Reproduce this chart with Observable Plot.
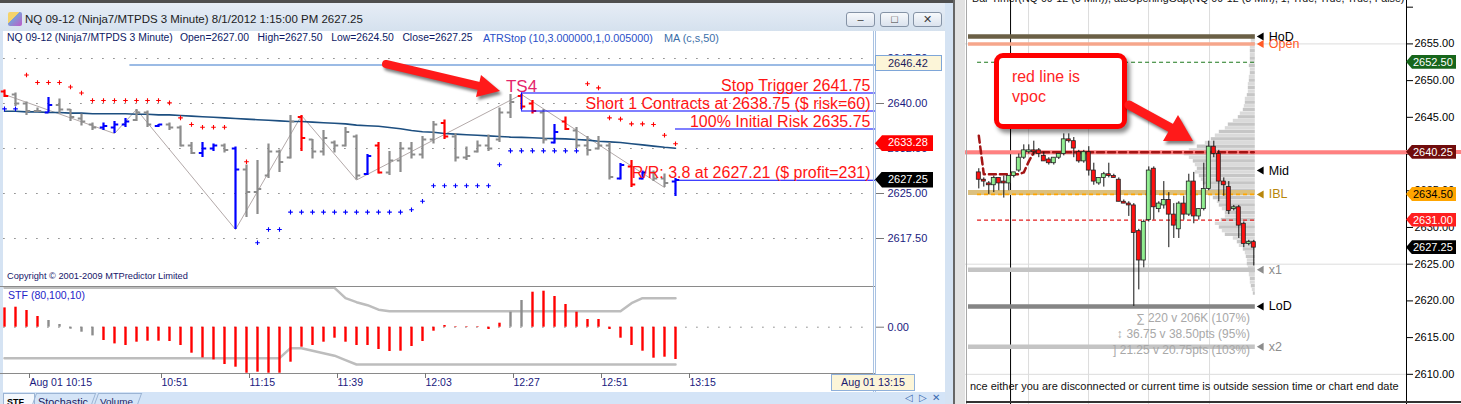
<!DOCTYPE html>
<html>
<head>
<meta charset="utf-8">
<script src="https://cdn.jsdelivr.net/npm/d3@7"></script>
<script src="https://cdn.jsdelivr.net/npm/@observablehq/plot@0.6"></script>
<style>
html,body{margin:0;padding:0;background:#fff;overflow:hidden}
#root{position:relative;width:1461px;height:404px;overflow:hidden;background:#fff;font-family:"Liberation Sans",Arial,sans-serif}
#root svg{max-width:none}
</style>
</head>
<body>
<div id="root"></div>
<script>
// ================= DATA : left chart (NQ 09-12, 3 minute bars, 10:09 -> 13:12) =================
const leftTickBars   = [2,14,22,30,38,46,54,62];
const leftTickLabels = ["Aug 01 10:15","10:51","11:15","11:39","12:03","12:27","12:51","13:15"];
const leftGridPrices = [2617.5,2625,2632.5,2640,2647.5];

const barOpen = [2642,2641.5,2640,2638.75,2638.5,2639.75,2639,2637.5,2636.5,2636,
 2636,2636.5,2637.25,2638.5,2636.25,2636.5,2636,2633,2631.75,2632.5,
 2633,2632.5,2629,2625.25,2628,2632,2631,2637.75,2634,2632,
 2633.5,2633,2634.5,2628.25,2633,2628.5,2630.5,2632.5,2631.5,2634,
 2636.75,2634.5,2631,2632,2633,2634,2638.5,2641.25,2640,2638.5,
 2633.5,2637,2635.5,2633,2632.5,2633,2627.5,2629.5,2627.5,2628.5,
 2627.5,2627];
const barHigh = [2642.25,2641.75,2640.25,2639.25,2641,2640.75,2639,2638.25,2636.75,2636.75,
 2637,2637.5,2639,2638.75,2636.5,2636.75,2636.25,2633.5,2633.5,2633.25,
 2633.25,2632.75,2629.75,2630.5,2633.25,2632.25,2638,2638,2634,2635.5,
 2633.75,2636,2634.75,2631.5,2633.5,2632,2633.5,2633.5,2634.5,2637,
 2637.25,2635,2632.75,2633.75,2634.75,2639.25,2641.5,2641.5,2640.5,2639,
 2636.5,2637.75,2636,2634.5,2634.5,2633.5,2630,2630.5,2628.75,2628.75,
 2628.25,2627.5];
const barLow = [2641,2639.5,2638,2638.5,2638.5,2638.25,2637,2636.25,2635.5,2635.5,
 2635,2636,2637,2636,2636,2635.5,2632.75,2631.5,2631,2632,
 2631.75,2619,2621,2621.5,2627.5,2628.5,2630.75,2632,2630.75,2631.25,
 2631.75,2632.75,2627.25,2628,2628.25,2628,2628.5,2630.75,2630.75,2633.25,
 2634,2630.25,2630.5,2631.75,2632,2633.5,2637.5,2639,2638.25,2633.25,
 2633.25,2635.5,2632.5,2631.25,2632.25,2627.25,2627.25,2626,2627.25,2627,
 2626,2624.5];
const barClose = [2641.25,2640,2638.75,2638.75,2639.75,2639,2637.75,2637,2636,2636.25,
 2636.5,2637,2638.5,2636.5,2636.5,2636,2633,2631.75,2632.5,2633,
 2632.25,2629,2625.25,2625.75,2632,2630.25,2637,2634.25,2632,2634.25,
 2633,2635.25,2628,2631.25,2628.5,2630.5,2632.5,2631.5,2634,2636.5,
 2634.5,2631,2631.25,2633,2632.5,2638.5,2640.25,2639.5,2638.75,2634,
 2635.25,2635.75,2633,2632.25,2633,2627.75,2629.75,2626.5,2628.5,2627.5,
 2626.75,2627.25];
// bar colour codes: g = neutral, b = blue, r = red
const barColorCode = ["rgggbggggb","bbggbgggbb","gbgggggrgg","gggbrggggg","rggggggrrg","brggggbrbg","gb"].join("");

const maValues = [2638.7,2638.7,2638.6,2638.6,2638.5,2638.5,2638.4,2638.4,2638.3,2638.3,
 2638.3,2638.3,2638.2,2638.2,2638.1,2638.1,2638.0,2637.9,2637.8,2637.7,
 2637.6,2637.5,2637.4,2637.3,2637.2,2637.1,2637.0,2637.0,2636.9,2636.8,
 2636.7,2636.6,2636.4,2636.3,2636.2,2636.0,2635.8,2635.5,2635.3,2635.2,
 2635.0,2634.9,2634.8,2634.7,2634.6,2634.5,2634.4,2634.35,2634.3,2634.2,
 2634.15,2634.1,2634.0,2633.9,2633.7,2633.6,2633.5,2633.3,2633.1,2632.9,
 2632.7,2632.55];

const redStop = [null,null,2644.75,2643.5,2643.5,2643.5,2642.75,2641.75,2640.5,2640.5,
 2640.5,2640.5,2640.5,2640.5,2640.5,2640.1,2637.6,2636.5,2636.05,2636.05,
 2636.05,null,2630.3,null,null,null,null,null,null,null,
 null,null,null,null,null,null,null,null,null,null,
 null,null,null,null,null,null,null,null,null,null,
 null,null,null,2643.3,2642.6,2637.6,2637.4,2636.6,2636.6,2636.5,
 2634.7,2633.28];
const blueStop = [2639.1,2639.1,null,null,null,null,null,null,null,null,
 null,null,null,null,null,null,null,null,null,null,
 null,null,null,2616.8,2619,2619,2621.9,2621.9,2621.9,2621.9,
 2621.9,2621.9,2621.9,2621.9,2621.9,2621.9,2621.9,2622.3,2623.7,2626.3,
 2626.3,2626.3,2626.3,2626.3,2626.3,2629.8,2632.1,2632.1,2632.1,2632.1,
 2632.1,2632.1,2632.1,null,null,null,null,null,null,null,
 null,null];

const zigBars   = [0,10,12,21,27,32,47,60];
const zigPrices = [2641.5,2635,2639,2619,2638,2627.25,2641.5,2626];

const tradeLevels = [
  {label:"Stop Trigger 2641.75", price:2641.75, fromBar:47},
  {label:"Short 1 Contracts at 2638.75 ($ risk=60)", price:2638.75, fromBar:47},
  {label:"100% Initial Risk 2635.75", price:2635.75, fromBar:61},
  {label:"R/R: 3.8 at 2627.21 ($ profit=231)", price:2627.21, fromBar:61}
];
const projectionLevel = {price:2646.42, fromBar:11.4};
const signal = {label:"TS4", bar:47, price:2641.5};
const leftTags = [
  {label:"2646.42", price:2646.42, bg:"#fcf5d8", fg:"#1c1c5a", point:false},
  {label:"2633.28", price:2633.28, bg:"#ff0000", fg:"#ffffff", point:true},
  {label:"2627.25", price:2627.25, bg:"#000000", fg:"#ffffff", point:true}
];

// STF indicator
const stfValues = [19.3,20,16.7,10.7,6.7,2.7,-2,-5,-8.7,-13.3,
 -16.7,-18.3,-15,-14,-14,-14.3,-18.3,-26,-30.7,-32.7,
 -37.3,-40,-46,-45,-46,-46,-35,-20,-18.3,-15,
 -11,-15,-18.3,-18.3,-22.3,-24.3,-24,-19.3,-14.3,-4,
 1.7,0.5,0.5,0.5,-2.3,4,15,26.7,35,36,
 30.7,22.7,15,7.7,7.7,-2.3,-11,-18.3,-24,-31,
 -30,-32.3];
const stfColorCode = ["rrrrgggggr","rrrrrrrrrr","rrrrrrrrrr","rrrrrrrrrr","rrrrrrggrr","rrrrrrrrrr","rr"].join("");
const stfUpper = [39.4,39.4,39.4,39.4,39.4,39.4,39.4,39.4,39.4,39.4,
 39.4,39.4,39.4,39.4,39.4,39.4,39.4,39.4,39.4,39.4,
 39.4,39.4,39.4,39.4,39.4,39.4,39.4,39.4,39.4,39.4,
 39.4,29,25,22,17.5,16,16,16,16,16,
 16,16,16,16,16,16,16,16,16,16,
 16,16,16,16,16,16,16,24,29,29,
 29,29];
const stfLower = [-31,-31,-31,-31,-31,-31,-31,-31,-31,-31,
 -31,-31,-31,-31,-31,-31,-31,-31,-31,-31,
 -31,-31,-31,-31,-31,-31,-21,-21,-23.5,-26,
 -28.5,-33,-37.3,-37.3,-37.3,-37.3,-37.3,-37.3,-37.3,-37.3,
 -37.3,-37.3,-37.3,-37.3,-37.3,-37.3,-37.3,-37.3,-37.3,-37.3,
 -37.3,-37.3,-37.3,-37.3,-37.3,-37.3,-37.3,-37.3,-37.3,-37.3,
 -37.3,-37.3];

// ================= DATA : right chart (candles + volume profile) =================
const cOpen = [2637.5,2636.5,2636,2635.75,2636.75,2636.25,2636,2637,2637.75,2639.5,
 2640.25,2640.5,2640.5,2639.75,2639.25,2638.75,2639.5,2640,2642,2641.75,
 2640.25,2639,2640.25,2637.75,2636,2636.75,2637.25,2637,2636.5,2633.5,
 2633.25,2633,2629.5,2625.5,2631,2638,2632.5,2633,2633.75,2631.75,
 2629.75,2633.25,2631.75,2636.25,2631.5,2632.5,2635.25,2641,2640,2636.25,
 2635.5,2632.5,2632.75,2630.5,2627.75,2628];
const cHigh = [2638,2636.75,2636.25,2637,2636.75,2637,2637,2637.5,2640,2641.25,
 2641.25,2641.75,2640.75,2640.25,2639.5,2639.5,2640,2642.75,2642.75,2642.25,
 2640.5,2640.5,2641,2638.75,2636.75,2637.5,2638.75,2637.25,2636.75,2633.75,
 2633.5,2633.25,2629.75,2631,2638.25,2638.25,2633.5,2636.25,2634.75,2633.25,
 2633.5,2634.25,2637.25,2637.5,2632.5,2638.75,2641.75,2641.75,2640.5,2636.75,
 2636.25,2633,2633,2630.75,2628.25,2628.25];
const cLow = [2635.25,2635.5,2634.5,2634.75,2635,2634,2635,2636.75,2637.5,2639.25,
 2640,2639.75,2639.5,2639,2638.5,2638.5,2639.25,2639.75,2641.5,2639.5,
 2638.75,2638.75,2637,2635.75,2635.75,2635.5,2636.75,2636.75,2633.5,2633.25,
 2631.5,2619.25,2621.5,2624.5,2630.75,2631,2632,2632.5,2627.25,2628.5,
 2628.5,2631,2631.5,2630.5,2631,2632.25,2635,2639.5,2633.5,2634.25,
 2631.75,2632.25,2628.5,2627.25,2627.5,2624.75];
const cClose = [2636.5,2636.25,2635.75,2636.75,2636,2636,2637,2637.5,2639.5,2640.5,
 2640.5,2640.25,2640,2639,2638.75,2639.5,2640,2642,2641.75,2640.75,
 2639,2640.25,2637.75,2636.25,2636.75,2637.25,2637,2636.75,2633.5,2633.25,
 2633,2629.25,2625.5,2630.75,2637.75,2632.75,2633.25,2633.75,2631.75,2630.25,
 2633.25,2631.75,2636.25,2631.5,2632.5,2635.25,2641,2640,2636.25,2635.75,
 2632.25,2632.75,2630.25,2627.75,2628,2627.25];

const vpocDevBars   = [1,2,9,10,11,12,56];
const vpocDevPrices = [2642.5,2637.25,2637.25,2637.5,2639,2640.25,2640.25];

const profileLevels = [2656,2655.5,2655,2654.5,2654,2653.5,2653,2652.5,2652,2651.5,
 2651,2650.5,2650,2649.5,2649,2648.5,2648,2647.5,2647,2646.5,
 2646,2645.5,2645,2644.5,2644,2643.5,2643,2642.5,2642,2641.5,
 2641,2640.5,2640,2639.5,2639,2638.5,2638,2637.5,2637,2636.5,
 2636,2635.5,2635,2634.5,2634,2633.5,2633,2632.5,2632,2631.5,
 2631,2630.5,2630,2629.5,2629,2628.5,2628,2627.5,2627,2626.5,
 2626,2625.5,2625,2624.5,2624,2623.5,2623,2622.5,2622,2621.5,2621];
const profileVol = [4,4,4,5,5,5,5,5,6,5,
 5,6,6,7,7,7,8,10,10,11,
 12,15,17,22,27,30,36,40,44,50,
 58,66,71,66,62,60,58,60,56,54,
 52,50,47,45,42,38,36,33,30,30,
 34,40,36,33,30,22,18,16,12,10,
 9,8,8,7,6,6,5,5,4,3,2];

const rightGridBars   = [10.95,22.95,34.95,47.15];
const rightGridPrices = [2610,2625,2640,2655];
const rightAxisTicks  = [2610,2615,2620,2625,2630,2635,2640,2645,2650,2655,2660];
const sessionStartBar = 7.35;
const vpocPrice = 2640.25;
const bandLevels = [
  {name:"HoD",  price:2656,    color:"#6b6046", width:4.5},
  {name:"Open", price:2655,    color:"#f6a68b", width:3.5},
  {name:"IBL",  price:2634.75, color:"#dcc07e", width:5},
  {name:"x1",   price:2624.25, color:"#c4c4c4", width:4.5},
  {name:"LoD",  price:2619.25, color:"#858585", width:4.5},
  {name:"x2",   price:2613.75, color:"#c4c4c4", width:4.5}
];
const dashLevels = [
  {price:2652.5, color:"#1e7a1e", width:1.2},
  {price:2634.5, color:"#ffa500", width:1.6},
  {price:2631,   color:"#e41c1c", width:1.2}
];
const levelLabels = [
  {name:"HoD",  price:2656,    color:"#000000"},
  {name:"Open", price:2655,    color:"#ff5a26"},
  {name:"Mid",  price:2637.75, color:"#000000"},
  {name:"IBL",  price:2634.5,  color:"#b8860b"},
  {name:"x1",   price:2624.25, color:"#8c8c8c"},
  {name:"LoD",  price:2619.25, color:"#000000"},
  {name:"x2",   price:2613.75, color:"#8c8c8c"}
];
const rightTags = [
  {label:"2652.50", price:2652.5,  bg:"#17661b", fg:"#ffffff"},
  {label:"2640.25", price:2640.25, bg:"#700c0c", fg:"#ffffff"},
  {label:"2634.50", price:2634.5,  bg:"#ffa500", fg:"#000000"},
  {label:"2631.00", price:2631,    bg:"#ff1f1f", fg:"#ffffff"},
  {label:"2627.25", price:2627.25, bg:"#000000", fg:"#ffffff"}
];
const statLines = ["\u2211 220 v 206K (107%)", "\u2195 36.75 v 38.50pts (95%)", "] 21.25 v 20.75pts (103%)"];

// ================= BUILD =================
const root = document.getElementById("root");
const FONT = '"Liberation Sans", Arial, sans-serif';
function el(tag, css, parent = root) { const e = document.createElement(tag); e.style.cssText = "position:absolute;" + css; parent.appendChild(e); return e; }
function txt(s, x, y, size, color, opts = {}) {
  const d = el("div", `left:${x}px;top:0;font-size:${size}px;color:${color};white-space:pre;line-height:1;font-weight:${opts.bold ? "bold" : "normal"};`);
  d.textContent = s;
  let fs = size;
  if (opts.w) { const w = d.getBoundingClientRect().width; if (w > 0) { fs = size * opts.w / w; d.style.fontSize = fs + "px"; } }
  d.style.top = (y - 0.488 * fs) + "px";
  if (opts.end) d.style.left = (x - d.getBoundingClientRect().width) + "px";
  return d;
}

// ---- left window chrome ----
el("div", "left:0;top:0;width:955px;height:3px;background:#4f4f4f;");
el("div", "left:0;top:3px;width:953px;height:28px;background:linear-gradient(#e6edf6,#d5e1ee);");
el("div", "left:0;top:31px;width:3px;height:373px;background:#d5e3f3;");
el("div", "left:945px;top:3px;width:8px;height:401px;background:#d5e3f3;");
el("div", "left:953px;top:0;width:2px;height:404px;background:#666;");
el("div", "left:955px;top:0;width:11px;height:404px;background:#e2e2e2;");
el("div", "left:8px;top:12px;width:14px;height:14px;background:linear-gradient(135deg,#f5d36a 0,#f5d36a 40%,#7a9fd8 40%,#c05ac8 100%);border-radius:2px;");
[846, 880, 913].forEach((x, k) => {
  const b = el("div", `left:${x}px;top:12px;width:29px;height:15px;box-sizing:border-box;border:1px solid #8593a6;border-radius:3px;background:linear-gradient(#f7f9fc,#dbe3ee);font-size:11px;line-height:13px;text-align:center;color:#3b3b3b;`);
  b.textContent = ["\u2013", "\u25a1", "\u2715"][k];
});

el("div", "left:3px;top:31px;width:942px;height:361px;background:#fff;");

// ---- left price plot ----
const LX = [-4 / 11, 871 / 11];
const colorMap = {g: "#8c8c8c", b: "#0000ff", r: "#ff0000"};
const bars = barOpen.map((o, i) => ({i, o, h: barHigh[i], l: barLow[i], c: barClose[i], col: colorMap[barColorCode[i]]}));
const ma = maValues.map((v, i) => ({i, v}));
const redStops = redStop.map((v, i) => ({i, v})).filter(d => d.v != null);
const blueStops = blueStop.map((v, i) => ({i, v})).filter(d => d.v != null);
const zig = zigBars.map((b, k) => ({i: b, v: zigPrices[k]}));

const leftPrice = Plot.plot({
  width: 945, height: 238, marginLeft: 0, marginRight: 70, marginTop: 0, marginBottom: 0,
  style: {background: "transparent", fontFamily: FONT, fontSize: "11px", overflow: "visible"},
  x: {domain: LX, axis: null}, y: {domain: [2609.5, 2649 + 1 / 6], axis: null}, color: {type: "identity"},
  marks: [
    Plot.ruleY(leftGridPrices, {x1: -0.05, x2: 78.05, stroke: "#444", strokeDasharray: "1,10"}),
    Plot.ruleY([projectionLevel], {y: "price", x1: "fromBar", x2: LX[1], stroke: "#7aa5dc", strokeWidth: 1.3}),
    Plot.line(zig, {x: "i", y: "v", stroke: "#b3a9a9", strokeWidth: 1}),
    Plot.line(ma, {x: "i", y: "v", stroke: "#1d4f80", strokeWidth: 1.6}),
    Plot.ruleX(bars, {x: "i", y1: "l", y2: "h", stroke: "col", strokeWidth: 2.2}),
    Plot.link(bars, {x1: d => d.i - 0.34, x2: "i", y1: "o", y2: "o", stroke: "col", strokeWidth: 2}),
    Plot.link(bars, {x1: "i", x2: d => d.i + 0.34, y1: "c", y2: "c", stroke: "col", strokeWidth: 2}),
    Plot.dot(redStops, {x: "i", y: "v", symbol: "plus", r: 1.6, stroke: "#ff0000", strokeWidth: 1.1}),
    Plot.dot(blueStops, {x: "i", y: "v", symbol: "plus", r: 1.6, stroke: "#0000ff", strokeWidth: 1.1}),
    Plot.ruleY(tradeLevels, {y: "price", x1: "fromBar", x2: LX[1], stroke: "#0000ff", strokeWidth: 1.2}),
    Plot.ruleX([tradeLevels[0]], {x: "fromBar", y1: tradeLevels[0].price, y2: tradeLevels[1].price, stroke: "#0000ff", strokeWidth: 1.2}),
    Plot.text(tradeLevels, {x: LX[1], y: "price", text: "label", textAnchor: "end", dx: -5, dy: -7.5, fill: "#ff1414", fontSize: 16}),
    Plot.text([signal], {x: "bar", y: "price", text: "label", dy: -8, fill: "#e5246c", fontSize: 17}),
    Plot.axisY({ticks: leftGridPrices, anchor: "right", tickSize: 8, tickPadding: 4, tickFormat: d3.format(".2f"), fill: "#1a1a80", stroke: "#777", fontSize: 11, label: null})
  ]
});
const lpWrap = el("div", "left:0;top:48px;width:945px;height:238px;");
lpWrap.appendChild(leftPrice);

// ---- STF plot ----
const stfColorMap = {g: "#8c8c8c", r: "#ff0000"};
const stf = stfValues.map((v, i) => ({i, v, up: stfUpper[i], lo: stfLower[i], col: stfColorMap[stfColorCode[i]]}));
const stfPlot = Plot.plot({
  width: 945, height: 107, marginLeft: 0, marginRight: 70, marginTop: 0, marginBottom: 20,
  style: {background: "transparent", fontFamily: FONT, fontSize: "11px", overflow: "visible"},
  x: {domain: LX}, y: {domain: [-46.3, 40.7]}, color: {type: "identity"},
  marks: [
    Plot.ruleY([0], {x1: -0.05, x2: 78.05, stroke: "#444", strokeDasharray: "1,10"}),
    Plot.line(stf, {x: "i", y: "up", stroke: "#bdbdbd", strokeWidth: 2.5}),
    Plot.line(stf, {x: "i", y: "lo", stroke: "#bdbdbd", strokeWidth: 2.5}),
    Plot.ruleX(stf, {x: "i", y1: 0, y2: "v", stroke: "col", strokeWidth: 2.4}),
    Plot.frame({anchor: "top", stroke: "#8a8a8a"}),
    Plot.frame({anchor: "bottom", stroke: "#8a8a8a"}),
    Plot.axisY({ticks: [0], anchor: "right", tickSize: 8, tickPadding: 4, tickFormat: d3.format(".2f"), fill: "#1a1a80", stroke: "#777", fontSize: 11, label: null}),
    Plot.axisX({ticks: leftTickBars, tickFormat: d => leftTickLabels[leftTickBars.indexOf(d)], tickSize: 5, tickPadding: 0, textAnchor: "start", dx: 3, fill: "#1a1a80", stroke: "#777", fontSize: 10.5, label: null})
  ]
});
const stfWrap = el("div", "left:0;top:286px;width:945px;height:107px;");
stfWrap.appendChild(stfPlot);

// double vertical separator of price scale
el("div", "left:873px;top:31px;width:1px;height:362px;background:#a9c2e2;");
el("div", "left:875px;top:31px;width:1px;height:362px;background:#a9c2e2;");

// left texts
txt("NQ 09-12 (Ninja7/MTPDS 3 Minute) 8/1/2012 1:15:00 PM 2627.25", 25, 19.5, 12, "#1b1b1b", {w: 338});
txt("NQ 09-12 (Ninja7/MTPDS 3 Minute)", 7, 38, 10.5, "#0d1a66", {w: 166});
txt("Open=2627.00   High=2627.50   Low=2624.50   Close=2627.25", 180, 38, 10.5, "#0d1a66", {w: 293});
txt("ATRStop (10,3.000000,1,0.005000)", 483, 38, 10.5, "#2a50c8", {w: 170});
txt("MA (c,s,50)", 664, 38, 10.5, "#3a6ea8", {w: 55});
txt("Copyright \u00a9 2001-2009 MTPredictor Limited", 7, 277, 10, "#16166a", {w: 181});
txt("STF (80,100,10)", 8, 295, 11, "#2424c8", {w: 77});

// left tags
const yL = leftPrice.scale("y");
leftTags.forEach(t => {
  const cy = 48 + yL.apply(t.price);
  const css = t.point
    ? `left:875px;top:${cy - 8}px;width:58px;height:16px;background:${t.bg};color:${t.fg};clip-path:polygon(0 50%,7px 0,100% 0,100% 100%,7px 100%);padding-left:13px;`
    : `left:875px;top:${cy - 9}px;width:67px;height:16px;background:${t.bg};color:${t.fg};border:1px solid #7ea6d8;padding-left:12px;`;
  const d = el("div", css + "box-sizing:border-box;font-size:11px;line-height:15px;white-space:nowrap;");
  d.textContent = t.label;
});

// time readout box
el("div", "left:831px;top:374px;width:84px;height:17px;box-sizing:border-box;border:1px solid #8fb0da;background:#fcf5d8;");
txt("Aug 01 13:15", 841, 382.5, 11, "#1a1a70", {w: 64});

// tabs
el("div", "left:3px;top:392px;width:942px;height:12px;background:#d4e4f7;");
el("div", "left:3px;top:393px;width:30px;height:11px;background:#f4f8fd;border:1px solid #9bb4d4;border-bottom:none;");
el("div", "left:34px;top:393px;width:58px;height:11px;border:1px solid #9bb4d4;border-bottom:none;transform:skewX(-20deg);");
el("div", "left:96px;top:393px;width:42px;height:11px;border:1px solid #9bb4d4;border-bottom:none;transform:skewX(-20deg);");
txt("STF", 7, 402, 12, "#000", {bold: true, w: 17});
txt("Stochastic", 38, 402, 12, "#1a1a60", {w: 50});
txt("Volume", 100, 402, 12, "#1a1a60", {w: 33});
txt("\u25c1  \u25b7  \u2715", 905, 398, 10, "#3a6ab0");

// ---- right chart ----
const RX = [-1.66, 86.54];
const lastBar = 56;
const candles = cOpen.map((o, k) => ({c: k + 1, o, h: cHigh[k], l: cLow[k], cl: cClose[k]}));
const profile = profileLevels.map((p, k) => ({p, v: profileVol[k], k}));
const vpocDev = vpocDevBars.map((c, k) => ({c, p: vpocDevPrices[k]}));
const triLeft = {draw(ctx, size) { const r = Math.sqrt(size / Math.PI); ctx.moveTo(-r, 0); ctx.lineTo(r * 0.7, -r); ctx.lineTo(r * 0.7, r); ctx.closePath(); }};

const rightPlot = Plot.plot({
  width: 496, height: 404, marginLeft: 0, marginRight: 55, marginTop: 0, marginBottom: 0,
  style: {background: "#fff", fontFamily: FONT, fontSize: "11px", overflow: "visible"},
  x: {domain: RX, axis: null}, y: {domain: [2605.89, 2660.91], axis: null}, color: {type: "identity"},
  marks: [
    Plot.ruleX(rightGridBars, {stroke: "#dcdcdc"}),
    Plot.ruleY(rightGridPrices, {stroke: "#dcdcdc"}),
    Plot.ruleX([sessionStartBar], {stroke: "#000"}),
    Plot.rect(profile, {x1: d => lastBar + 0.3 - d.v / 5, x2: lastBar + 0.3, y1: d => d.p - 0.23, y2: d => d.p + 0.23, fill: d => d.k % 2 ? "#dadada" : "#c6c6c6"}),
    Plot.ruleY(bandLevels, {y: "price", x1: -1.06, x2: lastBar + 0.3, stroke: "color", strokeWidth: "width"}),
    Plot.ruleY([vpocPrice], {stroke: "#ff8080", strokeWidth: 4}),
    Plot.ruleY(dashLevels, {y: "price", x1: 0.75, x2: lastBar + 0.4, stroke: "color", strokeWidth: "width", strokeDasharray: "4,3"}),
    Plot.line(vpocDev, {x: "c", y: "p", stroke: "#a31515", strokeWidth: 2.5, strokeDasharray: "7,4"}),
    Plot.ruleX(candles, {x: "c", y1: "l", y2: "h", stroke: "#111"}),
    Plot.rect(candles, {x1: d => d.c - 0.4, x2: d => d.c + 0.4, y1: "o", y2: "cl", fill: d => d.cl >= d.o ? "#90ee90" : "#ff1010", stroke: "#222", strokeWidth: 0.8}),
    Plot.dot(levelLabels, {x: lastBar, y: "price", dx: 7, symbol: triLeft, r: 4, fill: "color", stroke: null}),
    Plot.text(levelLabels, {x: lastBar, y: "price", text: "name", dx: 15, textAnchor: "start", fill: "color", fontSize: 12.5}),
    Plot.frame({anchor: "right", stroke: "#000"}),
    Plot.axisY({ticks: rightAxisTicks, anchor: "right", tickSize: 6, tickPadding: 2, tickFormat: d => d === 2660 ? "" : d3.format(".2f")(d), fill: "#000", stroke: "#000", fontSize: 11, label: null})
  ]
});
const rpWrap = el("div", "left:965px;top:0;width:496px;height:404px;");
rpWrap.appendChild(rightPlot);
el("div", "left:966px;top:0;width:1px;height:404px;background:#a8a8a8;");
el("div", "left:966px;top:401px;width:495px;height:2px;background:#333;");

const yR = rightPlot.scale("y");
el("div", `left:1406px;top:${yR.apply(vpocPrice) - 2}px;width:55px;height:4px;background:#ff8080;`);
rightTags.forEach(t => {
  const cy = yR.apply(t.price);
  const d = el("div", `left:1406px;top:${cy - 7}px;width:50px;height:14px;background:${t.bg};color:${t.fg};clip-path:polygon(0 50%,6px 0,100% 0,100% 100%,6px 100%);padding-left:7px;box-sizing:border-box;font-size:11px;line-height:14px;white-space:nowrap;`);
  d.textContent = t.label;
});

txt("Bar Timer(NQ 09-12 (3 Min)), atsOpeningGap(NQ 09-12 (3 Min), 1, True, True, True, False)", 972, -2, 12, "#111", {w: 433});
txt(statLines[0], 1250, 318.5, 14, "#a8a8a8", {w: 114, end: true});
txt(statLines[1], 1250, 335, 14, "#a8a8a8", {w: 133, end: true});
txt(statLines[2], 1250, 350.5, 14, "#a8a8a8", {w: 137, end: true});
txt("nce either you are disconnected or current time is outside session time or chart end date", 970, 386, 12, "#111", {w: 429});

// callout
el("div", "left:994px;top:53px;width:133px;height:76px;box-sizing:border-box;border:5px solid #ff0000;border-radius:9px;background:#fff;box-shadow:3px 4px 4px rgba(0,0,0,0.45);");
txt("red line is", 1012, 76.7, 16, "#ff2424", {w: 68});
txt("vpoc", 1012, 96, 16, "#ff2424", {w: 34});

// arrows
const arr = el("div", "left:0;top:0;width:1461px;height:404px;pointer-events:none;");
arr.innerHTML = `<svg width="1461" height="404" style="position:absolute;left:0;top:0">
<defs><filter id="sh" x="-30%" y="-30%" width="160%" height="160%"><feGaussianBlur stdDeviation="1.6"/></filter></defs>
<g transform="translate(2,3)" opacity="0.5" filter="url(#sh)">
 <line x1="386" y1="64" x2="479" y2="86" stroke="#000" stroke-width="8" stroke-linecap="round"/>
 <polygon points="476,97 500,91 481,75" fill="#000"/>
 <line x1="1129" y1="105" x2="1171" y2="128" stroke="#000" stroke-width="9" stroke-linecap="round"/>
 <polygon points="1163,141 1193,141 1178,115" fill="#000"/>
</g>
<g>
 <line x1="386" y1="64" x2="479" y2="86" stroke="#ff1a1a" stroke-width="8" stroke-linecap="round"/>
 <polygon points="476,97 500,91 481,75" fill="#ff1a1a"/>
 <line x1="1129" y1="105" x2="1171" y2="128" stroke="#ff1a1a" stroke-width="9" stroke-linecap="round"/>
 <polygon points="1163,141 1193,141 1178,115" fill="#ff1a1a"/>
</g></svg>`;
</script>
</body>
</html>
